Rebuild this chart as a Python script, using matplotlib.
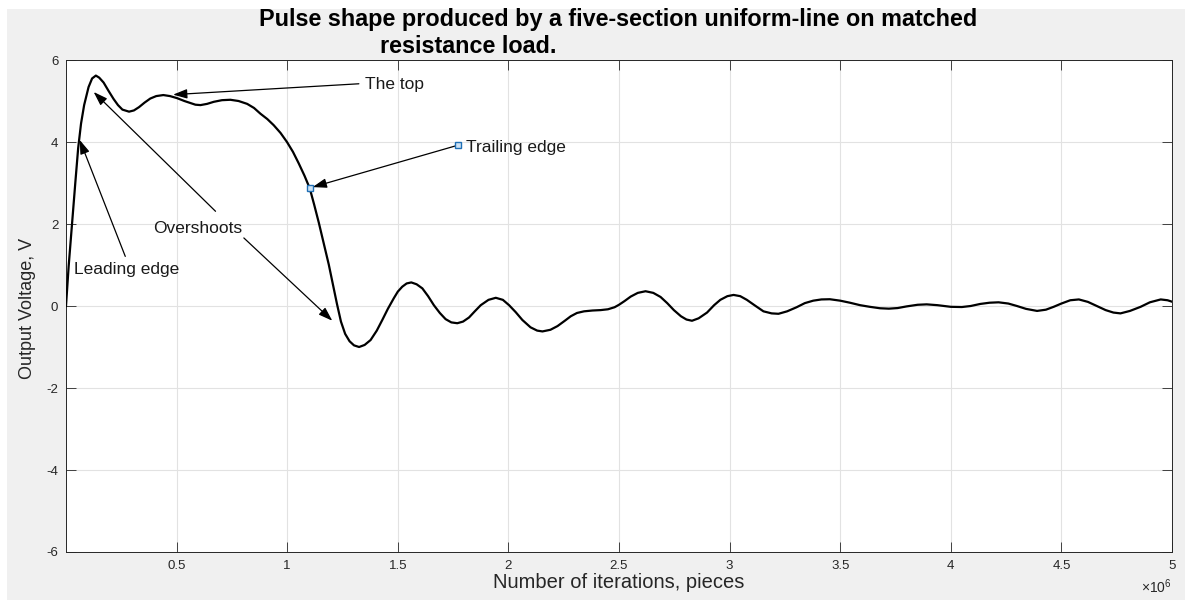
import numpy as np
import matplotlib
matplotlib.use("Agg")
import matplotlib.pyplot as plt
from matplotlib.patches import Rectangle

plt.rcParams['font.family'] = ['Liberation Sans', 'DejaVu Sans']
plt.rcParams['mathtext.fontset'] = 'custom'
plt.rcParams['mathtext.rm'] = 'Liberation Sans'
plt.rcParams['mathtext.it'] = 'Liberation Sans'

# ---------------- data (x in units of 1e6 iterations, y in volts) ----------------
iterations_e6 = [
    0.000, 0.012, 0.027, 0.042, 0.055, 0.068, 0.082, 0.102, 0.118, 0.135,
    0.150, 0.170, 0.192, 0.215, 0.235, 0.255, 0.285, 0.307, 0.330, 0.355,
    0.381, 0.408, 0.440, 0.470, 0.502, 0.535, 0.562, 0.585, 0.608, 0.638,
    0.668, 0.705, 0.743, 0.780, 0.819, 0.850, 0.879, 0.910, 0.939, 0.970,
    0.999, 1.026, 1.052, 1.078, 1.102, 1.122, 1.143, 1.165, 1.188, 1.207,
    1.225, 1.243, 1.262, 1.282, 1.302, 1.325, 1.350, 1.377, 1.405,
    1.430, 1.455, 1.482, 1.500, 1.520, 1.540, 1.561, 1.585, 1.611, 1.637,
    1.663, 1.690, 1.716, 1.742, 1.769, 1.795, 1.822, 1.848, 1.875, 1.910,
    1.943, 1.975, 2.003, 2.033, 2.063, 2.100, 2.130, 2.154, 2.190, 2.222,
    2.255, 2.282, 2.310, 2.342, 2.380, 2.417, 2.450, 2.480, 2.500, 2.525,
    2.553, 2.585, 2.620, 2.655, 2.688, 2.718, 2.748, 2.780, 2.805, 2.830,
    2.860, 2.898, 2.930, 2.958, 2.990, 3.018, 3.048, 3.078, 3.115, 3.153,
    3.190, 3.221, 3.260, 3.303, 3.340, 3.378, 3.415, 3.453, 3.500, 3.544,
    3.590, 3.634, 3.680, 3.720, 3.760, 3.800, 3.850, 3.891, 3.940, 4.000,
    4.050, 4.090, 4.133, 4.175, 4.216, 4.260, 4.299, 4.340, 4.390, 4.430,
    4.465, 4.500, 4.540, 4.579, 4.620, 4.660, 4.700, 4.735, 4.767, 4.810,
    4.858, 4.900, 4.949, 4.980, 5.000,
]
voltage = [
    0.00, 0.97, 2.00, 3.00, 3.85, 4.45, 4.90, 5.34, 5.55, 5.62,
    5.57, 5.45, 5.25, 5.05, 4.90, 4.79, 4.74, 4.77, 4.85, 4.96,
    5.06, 5.12, 5.145, 5.12, 5.07, 5.00, 4.95, 4.91, 4.90, 4.93,
    4.98, 5.02, 5.03, 5.00, 4.93, 4.83, 4.69, 4.56, 4.41, 4.22,
    4.00, 3.76, 3.48, 3.18, 2.87, 2.47, 2.03, 1.53, 1.01, 0.52,
    0.05, -0.38, -0.68, -0.86, -0.96, -1.00, -0.95, -0.83, -0.60,
    -0.34, -0.07, 0.19, 0.35, 0.47, 0.55, 0.575, 0.53, 0.43, 0.24,
    0.02, -0.17, -0.32, -0.40, -0.42, -0.38, -0.28, -0.13, 0.02, 0.15,
    0.20, 0.15, 0.02, -0.15, -0.34, -0.52, -0.60, -0.62, -0.58, -0.49,
    -0.36, -0.25, -0.17, -0.13, -0.11, -0.10, -0.08, -0.03, 0.03, 0.12,
    0.23, 0.32, 0.36, 0.32, 0.22, 0.07, -0.10, -0.25, -0.33, -0.36,
    -0.30, -0.16, 0.02, 0.15, 0.24, 0.27, 0.24, 0.15, 0.01, -0.13,
    -0.18, -0.19, -0.13, -0.03, 0.07, 0.13, 0.16, 0.165, 0.13, 0.08,
    0.02, -0.02, -0.055, -0.065, -0.05, -0.01, 0.03, 0.04, 0.02, -0.02,
    -0.025, 0.00, 0.05, 0.08, 0.09, 0.06, 0.00, -0.07, -0.12, -0.09,
    -0.02, 0.06, 0.14, 0.16, 0.10, 0.00, -0.10, -0.16, -0.18, -0.12,
    -0.02, 0.09, 0.16, 0.14, 0.105,
]

x_ticks_e6 = [0.5, 1.0, 1.5, 2.0, 2.5, 3.0, 3.5, 4.0, 4.5, 5.0]
x_tick_labels = ['0.5', '1', '1.5', '2', '2.5', '3', '3.5', '4', '4.5', '5']
y_ticks = [-6, -4, -2, 0, 2, 4, 6]
y_tick_labels = ['-6', '-4', '-2', '0', '2', '4', '6']

title_line1 = 'Pulse shape produced by a five-section uniform-line on matched'
title_line2 = 'resistance load.'
x_label = 'Number of iterations, pieces'
y_label = 'Output Voltage, V'

# annotations: (label, text position, list of (tail, tip) arrows) in data units (x in 1e6)
annotations = [
    ('The top', (1.35, 5.40), [((1.324, 5.42), (0.484, 5.155))]),
    ('Trailing edge', (1.81, 3.87), [((1.774, 3.925), (1.115, 2.90))]),
    ('Leading edge', (0.038, 0.89), [((0.268, 1.21), (0.062, 4.05))]),
    ('Overshoots', (0.396, 1.90), [((0.676, 2.31), (0.125, 5.22)),
                                   ((0.804, 1.66), (1.204, -0.36))]),
]
handle_points = [(1.774, 3.925), (1.105, 2.87)]

# ---------------- figure ----------------
W, H = 1185, 603
fig = plt.figure(figsize=(W / 100, H / 100), dpi=100)
fig.patch.set_facecolor('white')
fig.patches.append(Rectangle((7 / W, 1 - 600 / H), (W - 7) / W, (600 - 9) / H,
                             transform=fig.transFigure, facecolor='#f0f0f0',
                             edgecolor='none', zorder=-10))

L, R, T, B = 66, 1172, 60, 552
ax = fig.add_axes([L / W, 1 - B / H, (R - L) / W, (B - T) / H])
ax.set_facecolor('white')

E6 = 1e6
x = np.array(iterations_e6) * E6
y = np.array(voltage)
ax.plot(x, y, color='black', lw=1.6, solid_joinstyle='round', zorder=3)

ax.set_xlim(0, 5 * E6)
ax.set_ylim(-6, 6)
ax.set_xticks(np.array(x_ticks_e6) * E6)
ax.set_xticklabels(x_tick_labels)
ax.set_yticks(y_ticks)
ax.set_yticklabels(y_tick_labels)

ax.grid(True, color='#e2e2e2', lw=0.8, zorder=0)
ax.set_axisbelow(True)
ax.tick_params(direction='in', length=7.5, width=0.6, top=True, right=True,
               labelsize=9.5, colors='#262626', pad=5.5)
for s in ax.spines.values():
    s.set_color('#262626')
    s.set_linewidth(0.7)

# annotations
for label, (tx, ty), arrows in annotations:
    ax.text(tx * E6, ty, label, ha='left', va='center', fontsize=12.5,
            color='#1a1a1a', zorder=5)
    for (ax0, ay0), (hx, hy) in arrows:
        ax.annotate('', xy=(hx * E6, hy), xytext=(ax0 * E6, ay0),
                    arrowprops=dict(arrowstyle='-|>,head_length=0.65,head_width=0.22',
                                    mutation_scale=13, lw=0.9, color='#2a2a2a',
                                    fc='black', ec='black', shrinkA=0, shrinkB=0),
                    zorder=4)
for hx, hy in handle_points:
    ax.plot([hx * E6], [hy], marker='s', ms=4.5, mec='#1f6fb5', mfc='#cfe3f5',
            mew=1.0, zorder=6)

# titles and labels
fig.text(618 / W, 1 - 26 / H, title_line1, ha='center', va='baseline',
         fontsize=16.8, fontweight='bold', color='black')
fig.text(468 / W, 1 - 53 / H, title_line2, ha='center', va='baseline',
         fontsize=16.8, fontweight='bold', color='black')
fig.text(619 / W, 1 - 583 / H, x_label, ha='center', va='center',
         fontsize=14.5, color='#262626')
fig.text(28 / W, 1 - 308 / H, y_label, ha='center', va='center', rotation=90,
         fontsize=13, color='#262626')
fig.text(1172 / W, 1 - 593 / H, r'$\times10^{6}$', ha='right', va='baseline',
         fontsize=10, color='#262626')

fig.savefig('out.png', dpi=100, facecolor=fig.get_facecolor())
